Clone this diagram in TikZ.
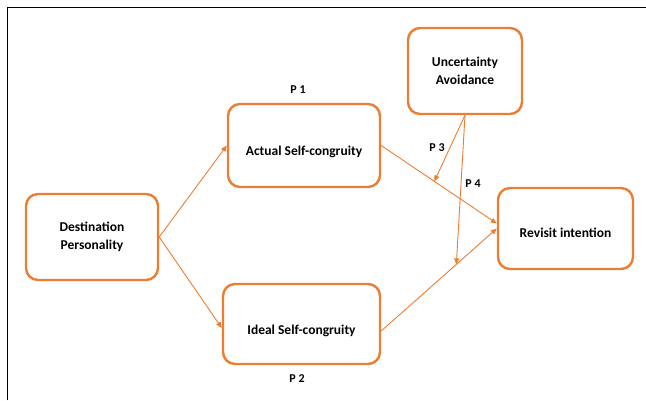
\documentclass[tikz,border=0pt]{standalone}
\usepackage{fontspec}
\setmainfont{Carlito}
\usepackage{xcolor}
\usetikzlibrary{arrows.meta, positioning}
\definecolor{boxorange}{RGB}{237,125,49}

\begin{document}
\begin{tikzpicture}[x=1pt, y=-1pt, > = {Triangle[length=6pt,width=5pt]},
		box/.style={draw=boxorange, line width=2.4pt, rounded corners=12pt, align=center,
			inner sep=0pt, font=\bfseries\fontsize{13.5}{17.5}\selectfont},
		link/.style={->, draw=boxorange, line width=0.9pt},
		plabel/.style={font=\bfseries\fontsize{12}{14}\selectfont}]
	\useasboundingbox (0,0) rectangle (646,400);
	
	% marco
	\draw [line width=1.5pt] (7.5,400) -- (7.5,7.5) -- (646,7.5);
	
	% caixas
	\node [box, minimum width=132pt, minimum height=86pt] (dp) at (92,237) {Destination\\Personality};
	\node [box, minimum width=152pt, minimum height=83pt, text height=22.5pt, text depth=3pt] (asc) at (304,145.5) {Actual Self-congruity};
	\node [box, minimum width=157pt, minimum height=80pt, text height=23.5pt, text depth=3pt] (isc) at (301.5,324) {Ideal Self-congruity};
	\node [box, minimum width=114pt, minimum height=86pt] (ua) at (465,71) {Uncertainty\\Avoidance};
	\node [box, minimum width=135pt, minimum height=81pt, text height=18.5pt, text depth=0pt] (ri) at (565.5,228.5) {Revisit intention};
	
	% ligações
	\draw [link] (dp.east) -- (asc.west);
	\draw [link] (dp.east) -- ([yshift=-4pt]isc.west);
	\draw [link] (asc.east) -- ([yshift=5pt]ri.west) coordinate [pos=0.46] (m3);
	\draw [link] ([yshift=-7pt]isc.east) -- (ri.west) coordinate [pos=0.65] (m4);
	\draw [link] (ua.south) -- (m3);
	\draw [link] (ua.south) -- (m4);
	
	% proposições
	\node [plabel] (p1) at (298,90) {P 1};
	\node [plabel] (p2) at (297,379) {P 2};
	\node [plabel] (p3) at (437,148) {P 3};
	\node [plabel] (p4) at (473,184) {P 4};
\end{tikzpicture}
\end{document}
